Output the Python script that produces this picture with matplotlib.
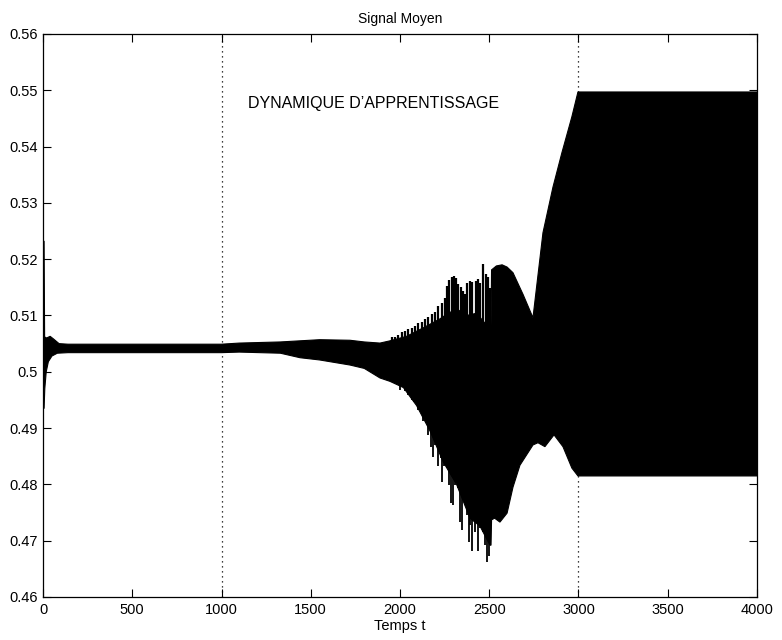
import numpy as np
import matplotlib
matplotlib.use("Agg")
import matplotlib.pyplot as plt

plt.rcParams['font.family'] = ['Liberation Sans', 'DejaVu Sans']

# enveloppe haute / basse du signal moyen
t_haut = [0, 6, 9, 20, 40, 60, 90, 140, 1000, 1100, 1330, 1440, 1550, 1720, 1800,
          1888, 1944, 2037, 2130, 2224, 2261, 2317, 2373, 2429, 2485, 2510, 2513,
          2540, 2572, 2600, 2633, 2690, 2745, 2801, 2857, 2907, 2963, 2997, 4000]
v_haut = [0.5232, 0.5232, 0.5062, 0.5060, 0.5063, 0.5058, 0.5050, 0.5049, 0.5049,
          0.5051, 0.5053, 0.5055, 0.5057, 0.5056, 0.5053, 0.5051, 0.5055, 0.5063,
          0.5078, 0.5094, 0.5102, 0.5112, 0.5100, 0.5104, 0.5083, 0.5083, 0.5181,
          0.5188, 0.5190, 0.5186, 0.5176, 0.5137, 0.5096, 0.5247, 0.5328, 0.5389,
          0.5453, 0.5497, 0.5497]

t_bas = [0, 6, 10, 18, 30, 50, 80, 140, 1000, 1100, 1330, 1440, 1550, 1720, 1800,
         1888, 1944, 2019, 2093, 2168, 2242, 2317, 2392, 2448, 2504, 2510, 2513,
         2530, 2560, 2600, 2633, 2672, 2745, 2773, 2812, 2863, 2913, 2963, 2997, 4000]
v_bas = [0.4935, 0.4935, 0.4970, 0.5000, 0.5018, 0.5028, 0.5033, 0.5034, 0.5034,
         0.5035, 0.5033, 0.5025, 0.5021, 0.5012, 0.5006, 0.4989, 0.4983, 0.4972,
         0.4940, 0.4895, 0.4840, 0.4800, 0.4740, 0.4726, 0.4692, 0.4692, 0.4737,
         0.4740, 0.4733, 0.4749, 0.4795, 0.4834, 0.4870, 0.4874, 0.4867, 0.4888,
         0.4867, 0.4829, 0.4815, 0.4815]

# pics des oscillations (2000 - 2500)
pic_haut_t = [1953, 1972, 1991, 2009, 2028, 2047, 2065, 2084, 2103, 2121, 2140, 2159,
              2177, 2196, 2215, 2233, 2252, 2265, 2277, 2290, 2301, 2312, 2325, 2339,
              2352, 2365, 2378, 2393, 2406, 2424, 2437, 2450, 2467, 2480, 2491, 2503]
pic_haut_v = [0.5062, 0.5062, 0.5065, 0.5070, 0.5073, 0.5076, 0.5078, 0.5082, 0.5086,
              0.5089, 0.5094, 0.5098, 0.5102, 0.5107, 0.5116, 0.5122, 0.5131, 0.5153,
              0.5163, 0.5169, 0.5170, 0.5167, 0.5156, 0.5151, 0.5144, 0.5139, 0.5157,
              0.5161, 0.5159, 0.5161, 0.5165, 0.5157, 0.5191, 0.5173, 0.5169, 0.5148]

pic_bas_t = [2000, 2028, 2047, 2065, 2080, 2103, 2127, 2143, 2159, 2172, 2183, 2196,
             2211, 2228, 2237, 2248, 2261, 2274, 2286, 2299, 2310, 2323, 2336, 2349,
             2360, 2373, 2384, 2395, 2406, 2423, 2437, 2448, 2463, 2476, 2487, 2500]
pic_bas_v = [0.4968, 0.4965, 0.4959, 0.4950, 0.4947, 0.4932, 0.4913, 0.4914, 0.4888,
             0.4867, 0.4849, 0.4870, 0.4832, 0.4846, 0.4805, 0.4832, 0.4829, 0.4799,
             0.4767, 0.4764, 0.4799, 0.4793, 0.4734, 0.4719, 0.4787, 0.4746, 0.4698,
             0.4728, 0.4681, 0.4716, 0.4681, 0.4722, 0.4716, 0.4692, 0.4663, 0.4672]

lignes_v = [1000, 3000]
yticks = [0.46, 0.47, 0.48, 0.49, 0.50, 0.51, 0.52, 0.53, 0.54, 0.55, 0.56]
ytick_labels = ['0.46', '0.47', '0.48', '0.49', '0.5', '0.51', '0.52', '0.53', '0.54', '0.55', '0.56']
xticks = [0, 500, 1000, 1500, 2000, 2500, 3000, 3500, 4000]

fig = plt.figure(figsize=(7.82, 6.4), dpi=100)
ax = fig.add_axes([0.055, 0.0672, 0.913, 0.8797])

xs = np.concatenate([t_haut, t_bas[::-1]])
ys = np.concatenate([v_haut, v_bas[::-1]])
ax.fill(xs, ys, color='k', lw=0.8)
ax.vlines(pic_haut_t, 0.504, pic_haut_v, color='k', lw=1.6)
ax.vlines(pic_bas_t, pic_bas_v, 0.504, color='k', lw=1.3)

for xv in lignes_v:
    ax.axvline(xv, color='k', lw=0.9, linestyle=(0, (1, 3)))

ax.text(1148, 0.5468, 'DYNAMIQUE D\u2019APPRENTISSAGE', fontsize=11.5, va='baseline', ha='left')

ax.set_xlim(0, 4000)
ax.set_ylim(0.46, 0.56)
ax.set_xticks(xticks)
ax.set_xticklabels([str(v) for v in xticks])
ax.set_yticks(yticks)
ax.set_yticklabels(ytick_labels)
ax.tick_params(direction='in', top=True, right=True, length=6, width=0.8,
               labelsize=10.5, pad=4)
for s in ax.spines.values():
    s.set_linewidth(0.9)

ax.set_title('Signal Moyen', fontsize=10, pad=8)
ax.set_xlabel('Temps t', fontsize=10.5, labelpad=2)

fig.savefig('out.png', dpi=100)
